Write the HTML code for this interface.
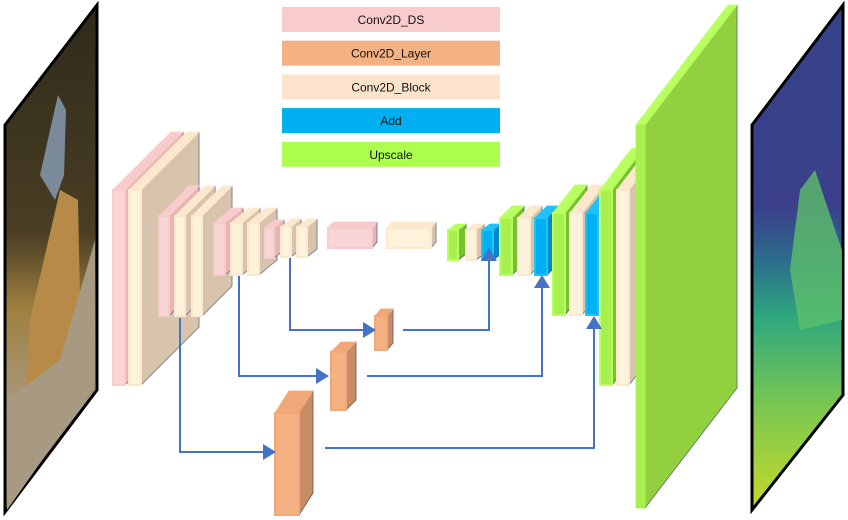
<!DOCTYPE html>
<html><head><meta charset="utf-8"><style>
html,body{margin:0;padding:0;background:#fff;}
svg{display:block;font-family:"Liberation Sans",sans-serif;}
</style></head><body>
<svg id="s" width="848" height="520" viewBox="0 0 848 520">
<defs>
<linearGradient id="vir" x1="0" y1="0" x2="0" y2="1">
<stop offset="0" stop-color="#35428a"/><stop offset="0.4" stop-color="#3b3f8a"/><stop offset="0.5" stop-color="#2c6a8c"/><stop offset="0.62" stop-color="#2ea87e"/><stop offset="0.8" stop-color="#7cc850"/><stop offset="1" stop-color="#c8d82a"/>
</linearGradient>
<linearGradient id="pho" x1="0" y1="0" x2="0" y2="1">
<stop offset="0" stop-color="#2e2a1a"/><stop offset="0.45" stop-color="#4a3e24"/><stop offset="0.6" stop-color="#a08040"/><stop offset="0.8" stop-color="#a89a80"/><stop offset="1" stop-color="#8a7c64"/>
</linearGradient>
</defs>
<g>
<polygon points="5,125 97,5 97,390 5,512" fill="url(#pho)" stroke="#000" stroke-width="3"/>
<polygon points="40,175 58,95 66,110 64,175 55,200" fill="#8aa0b8" opacity="0.8"/>
<polygon points="30,320 60,190 78,200 80,300 60,380 25,400" fill="#b88a48"/>
<polygon points="7,400 60,360 95,240 95,385 7,510" fill="#a89a82"/>
</g>
<g>
<polygon points="752,125 843,5 843,395 752,510" fill="url(#vir)" stroke="#000" stroke-width="3"/>
<polygon points="790,270 800,190 815,170 825,200 842,250 842,320 800,330" fill="#5cbf6a" opacity="0.8"/>
</g>
<g id="legend"></g>
<g id="blocks"></g>
<g id="arrows"></g>
</svg>
<script>
const NS='http://www.w3.org/2000/svg';
const C={ds:['#f8d4d4','#e8b4b4','#f8cccc'],bl:['#fdf2dc','#d8c4ac','#fce8cc'],ly:['#f4b183','#c88c64','#f0a878'],ad:['#00b0f0','#0088c8','#20c0f8'],up:['#a8f050','#78c030','#b8ff60'],big:['#a8f050','#92d040','#b8ff60']};
const legendLabels=['Conv2D_DS','Conv2D_Layer','Conv2D_Block','Add','Upscale'];
const legendColors=['#f8cccc','#f4b183','#fce4cc','#00b0f0','#adff4f'];
const blocks=[
['ds',113,190,12,195,58,-58],['bl',129,190,12,195,58,-58],
['ds',159,216,10,100,30,-30],['bl',175,216,10,100,30,-30],['bl',192,216,10,100,30,-30],
['ds',214,223,11,52,18,-15],['bl',231,223,11,52,18,-15],['bl',248,223,11,52,18,-15],
['ds',265,228,9,30,10,-8],['bl',281,227,10,30,10,-8],['bl',297,227,10,30,10,-8],
['ds',328,228,44,20,5,-6],['bl',387,228,44,20,5,-6],
['up',448,230,10,30,8,-6],['bl',466,230,10,30,8,-6],['ad',482,230,11,30,8,-6],
['up',500,218,12,57,12,-12],['bl',518,218,12,57,12,-12],['ad',535,218,12,57,12,-12],
['up',553,213,12,102,22,-28],['bl',570,213,12,102,22,-28],['ad',586,213,12,102,22,-28],
['up',600,190,12,195,32,-42],['bl',617,190,12,195,32,-42],
['big',636,125,9,383,92,-120],
['ly',375,316,12,34,6,-7],['ly',331,352,15,58,10,-10],['ly',275,413,24,102,14,-22]
];
const arrowsIn=[[290,258,330,363],[239,276,376,316],[180,318,452,263]];
const arrowsOut=[[403,330,489,248],[367,376,542,275],[325,448,594,316]];
const lg=document.getElementById('legend');
legendLabels.forEach((t,i)=>{
 const y=7+i*33.7;
 const r=document.createElementNS(NS,'rect');
 
 
 r.setAttribute('x',282);r.setAttribute('y',y);r.setAttribute('width',218);r.setAttribute('height',25);r.setAttribute('fill',legendColors[i]);
 lg.appendChild(r);
 const tx=document.createElementNS(NS,'text');
 
 
 tx.setAttribute('x',391);tx.setAttribute('y',y+17);tx.setAttribute('text-anchor','middle');tx.setAttribute('font-size','12');tx.setAttribute('fill','#111');
 tx.textContent=t;lg.appendChild(tx);
});
const bg=document.getElementById('blocks');
function poly(pts,fill,parent){const p=document.createElementNS(NS,'polygon');p.setAttribute('points',pts.map(a=>a.join(',')).join(' '));p.setAttribute('fill',fill);p.setAttribute('stroke',fill);p.setAttribute('stroke-width','0.8');parent.appendChild(p);return p;}
blocks.forEach((b,i)=>{
 const [k,x,y,w,h,dx,dy]=b;const c=C[k];
 const g=document.createElementNS(NS,'g');
 
 
 poly([[x+w,y],[x+w+dx,y+dy],[x+w+dx,y+h+dy],[x+w,y+h]],c[1],g);
 const e=document.createElementNS(NS,'path');
 e.setAttribute('d',`M${x+w+dx},${y+dy} V${y+h+dy} L${x+w},${y+h}`);
 e.setAttribute('fill','none');e.setAttribute('stroke','#3a4a7a');e.setAttribute('stroke-width','0.8');e.setAttribute('opacity','0.7');
 g.appendChild(e);
 poly([[x,y],[x+dx,y+dy],[x+w+dx,y+dy],[x+w,y]],c[2],g);
 const f=poly([[x,y],[x+w,y],[x+w,y+h],[x,y+h]],c[0],g);
 if(k!=='big'){f.setAttribute('stroke',c[2]);f.setAttribute('stroke-width','2');}
 bg.appendChild(g);
});
const ag=document.getElementById('arrows');
function arrowPath(d,name,head){
 const p=document.createElementNS(NS,'path');
 
 
 p.setAttribute('d',d);p.setAttribute('fill','none');p.setAttribute('stroke','#4472c4');p.setAttribute('stroke-width','2');ag.appendChild(p);
 const h=document.createElementNS(NS,'polygon');
 
 
 h.setAttribute('points',head);h.setAttribute('fill','#4472c4');ag.appendChild(h);
}
arrowsIn.forEach((a,i)=>{const [x,y0,y1,x1]=a;
 arrowPath(`M${x},${y0} V${y1} H${x1}`,'skip-in-'+i,`${x1},${y1-8} ${x1+13},${y1} ${x1},${y1+8}`);});
arrowsOut.forEach((a,i)=>{const [x0,y,x1,y1]=a;
 arrowPath(`M${x0},${y} H${x1} V${y1+12}`,'skip-out-'+i,`${x1-8},${y1+13} ${x1},${y1} ${x1+8},${y1+13}`);});
</script>
</body></html>
